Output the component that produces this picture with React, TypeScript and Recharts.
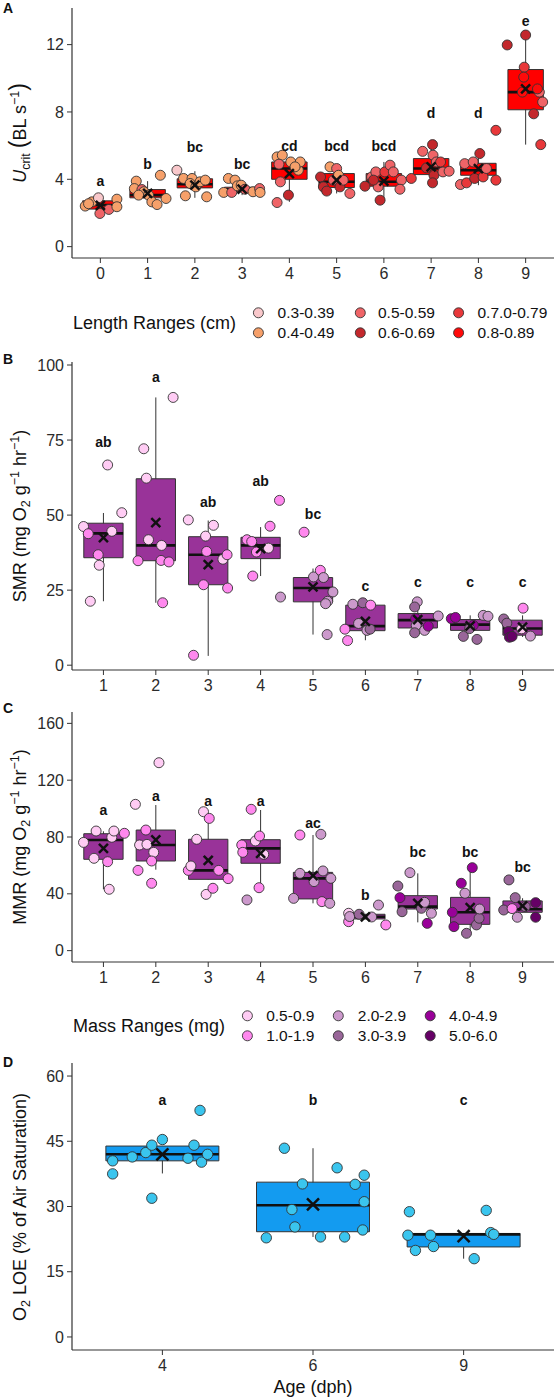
import React from 'react';
import { ComposedChart, XAxis, YAxis, Scatter, ReferenceArea, ReferenceLine } from 'recharts';

const FONT = '"Liberation Sans", Arial, Helvetica, sans-serif';
const INK = '#333333';

// ---------- Panel A: Ucrit by age ----------
const ucritAges = ['0', '1', '2', '3', '4', '5', '6', '7', '8', '9'];
// [lower whisker, q1, median, q3, upper whisker]
const ucritBoxes = [
  [1.97, 2.23, 2.47, 2.72, 2.9],
  [2.76, 2.9, 3.06, 3.39, 3.89],
  [2.9, 3.49, 3.71, 4.03, 4.48],
  [3.06, 3.26, 3.41, 3.53, 3.89],
  [2.66, 4.0, 4.64, 5.03, 5.33],
  [3.16, 3.51, 3.85, 4.34, 4.84],
  [2.76, 3.59, 3.85, 4.34, 5.03],
  [3.85, 4.28, 4.64, 5.23, 6.02],
  [3.65, 4.24, 4.54, 4.95, 5.43],
  [6.06, 8.13, 9.18, 10.52, 12.57],
];
const ucritMeans = [2.45, 3.16, 3.65, 3.41, 4.34, 3.95, 3.89, 4.74, 4.64, 9.37];
const ucritLetters = ['a', 'b', 'bc', 'bc', 'cd', 'bcd', 'bcd', 'd', 'd', 'e'];
const ucritLetterY = [3.89, 4.93, 5.92, 4.93, 5.96, 5.96, 5.96, 7.93, 7.93, 13.42];
const lengthRanges = ['0.3-0.39', '0.4-0.49', '0.5-0.59', '0.6-0.69', '0.7.0-0.79', '0.8-0.89'];
const lengthColors = ['#f9c8cb', '#f6a06a', '#ef6467', '#c3282c', '#e8383a', '#ff0a0a'];
// [group, jitter, value, length range]
const ucritPoints = [
  [0, -0.32, 2.41, 1], [0, -0.18, 2.66, 1], [0, -0.25, 2.55, 1], [0, -0.04, 2.9, 0], [0, -0.01, 1.97, 2],
  [0, 0.18, 2.21, 2], [0, 0.35, 2.82, 1], [0, 0.35, 2.37, 1],
  [1, -0.24, 3.89, 1], [1, -0.28, 3.45, 1], [1, -0.12, 3.39, 2], [1, -0.08, 3.26, 1], [1, 0.02, 3.06, 1],
  [1, 0.09, 2.66, 1], [1, 0.2, 2.5, 1], [1, 0.27, 4.24, 1], [1, 0.39, 2.86, 1], [1, -0.19, 3.06, 1],
  [2, -0.38, 4.54, 0], [2, -0.2, 3.02, 1], [2, -0.24, 4.05, 1], [2, -0.06, 4.05, 1], [2, -0.1, 3.75, 1],
  [2, 0.02, 3.55, 1], [2, 0.11, 3.85, 1], [2, 0.22, 3.95, 1], [2, 0.25, 2.96, 1],
  [3, -0.39, 3.22, 1], [3, -0.29, 4.05, 1], [3, -0.22, 3.22, 2], [3, -0.15, 3.95, 1], [3, -0.1, 3.61, 1],
  [3, -0.02, 3.65, 1], [3, 0.06, 3.41, 2], [3, 0.23, 3.26, 1], [3, 0.37, 3.45, 2], [3, 0.38, 3.22, 1],
  [4, -0.26, 5.33, 1], [4, -0.15, 5.43, 1], [4, -0.22, 4.9, 2], [4, -0.19, 3.85, 2], [4, -0.26, 2.62, 2],
  [4, -0.02, 3.06, 3], [4, 0.03, 5.03, 1], [4, 0.19, 4.54, 1], [4, 0.23, 5.03, 1], [4, 0.12, 4.74, 1],
  [5, -0.34, 4.14, 3], [5, -0.28, 3.55, 3], [5, -0.21, 3.3, 3], [5, -0.14, 4.74, 1], [5, 0, 4.64, 2],
  [5, -0.07, 3.95, 2], [5, 0.07, 3.55, 3], [5, 0.04, 4.24, 1], [5, 0.28, 3.16, 2], [5, 0.14, 3.95, 2],
  [6, -0.4, 3.59, 3], [6, -0.26, 4.14, 2], [6, -0.17, 4.44, 2], [6, -0.12, 3.55, 2], [6, -0.08, 2.76, 3],
  [6, 0.02, 4.44, 4], [6, 0.13, 4.84, 2], [6, 0.2, 4.44, 2], [6, 0.37, 3.95, 2], [6, 0.34, 3.41, 2],
  [6, -0.22, 3.95, 3],
  [7, -0.42, 4.05, 4], [7, -0.18, 5.66, 2], [7, 0.03, 6.06, 3], [7, 0.04, 5.43, 2], [7, 0.11, 5.03, 2],
  [7, -0.1, 4.68, 3], [7, 0.06, 4.24, 3], [7, 0.03, 3.79, 3], [7, 0.25, 4.44, 2], [7, 0.38, 4.48, 2],
  [7, 0.2, 5.03, 4],
  [8, -0.38, 3.69, 2], [8, -0.29, 4.93, 2], [8, -0.25, 3.79, 4], [8, -0.11, 5.03, 2], [8, -0.08, 4.05, 3],
  [8, 0.03, 5.53, 3], [8, 0.1, 4.14, 4], [8, 0.17, 4.64, 2], [8, 0.37, 6.91, 4], [8, 0.37, 3.95, 4],
  [9, -0.39, 11.98, 3], [9, 0, 12.57, 3], [9, -0.03, 10.66, 4], [9, -0.04, 10.07, 5], [9, -0.07, 9.18, 5],
  [9, 0.29, 9.18, 2], [9, 0.36, 8.59, 2], [9, 0.17, 7.89, 3], [9, 0.32, 6.06, 4], [9, 0.25, 9.37, 5],
];

// ---------- Panels B and C: SMR / MMR by age ----------
const rateAges = ['1', '2', '3', '4', '5', '6', '7', '8', '9'];
const massRanges = ['0.5-0.9', '1.0-1.9', '2.0-2.9', '3.0-3.9', '4.0-4.9', '5.0-6.0'];
const massColors = ['#ffccf4', '#ff88ee', '#cc99cc', '#996699', '#990099', '#660066'];

const smrBoxes = [
  [21.3, 35.8, 43.9, 47.3, 50.7],
  [20.8, 34.8, 39.9, 62.1, 89.2],
  [3.1, 26.8, 36.8, 42.8, 48.2],
  [29.7, 35.5, 39.9, 42.6, 46.0],
  [10.2, 21.1, 25.7, 29.2, 32.2],
  [8.3, 11.5, 13.0, 20.0, 22.2],
  [11.1, 12.4, 15.0, 17.2, 21.1],
  [10.5, 11.6, 13.5, 15.2, 16.6],
  [9.4, 10.0, 12.2, 15.0, 16.6],
];
const smrMeans = [42.5, 47.5, 33.5, 38.8, 26.1, 14.6, 15.2, 13.1, 12.7];
const smrLetters = ['ab', 'a', 'ab', 'ab', 'bc', 'c', 'c', 'c', 'c'];
const smrLetterY = [74.3, 96.1, 54.3, 61.5, 50.4, 26.3, 27.7, 27.7, 27.7];
// [group, jitter, value, mass range]
const smrPoints = [
  [0, -0.38, 46.2, 0], [0, -0.29, 43.8, 1], [0, -0.25, 21.3, 0], [0, -0.1, 36.8, 1], [0, -0.08, 33.3, 0],
  [0, 0.08, 66.7, 0], [0, 0.16, 44.6, 0], [0, 0.35, 50.8, 0],
  [1, -0.34, 34.8, 1], [1, -0.23, 72.1, 0], [1, -0.18, 62.3, 0], [1, -0.14, 41.8, 0], [1, 0.11, 39.9, 0],
  [1, 0.1, 34.9, 1], [1, 0.13, 20.8, 1], [1, 0.25, 34.4, 1], [1, 0.33, 89.2, 0],
  [2, -0.38, 48.4, 0], [2, -0.28, 3.3, 1], [2, -0.09, 26.8, 1], [2, -0.05, 43.0, 0], [2, -0.03, 37.9, 1],
  [2, 0.1, 46.6, 0], [2, 0.28, 35.3, 0], [2, 0.36, 36.8, 1], [2, 0.37, 25.7, 1],
  [3, -0.26, 41.8, 1], [3, -0.17, 41.2, 1], [3, -0.15, 29.7, 1], [3, -0.08, 37.7, 1], [3, 0.15, 39.0, 0],
  [3, 0.18, 46.3, 1], [3, 0.36, 54.9, 1], [3, 0.38, 22.7, 2],
  [4, -0.17, 44.3, 1], [4, 0.01, 29.4, 2], [4, 0.14, 31.6, 1], [4, 0.2, 29.2, 2], [4, 0.38, 24.4, 2],
  [4, 0.28, 21.3, 2], [4, 0.24, 20.5, 2], [4, 0.27, 10.2, 2],
  [5, -0.39, 12.0, 1], [5, -0.34, 8.2, 1], [5, -0.24, 20.3, 2], [5, -0.05, 20.8, 3], [5, 0.1, 20.0, 1],
  [5, -0.13, 13.9, 2], [5, 0.03, 11.6, 2], [5, 0.09, 12.0, 3],
  [6, -0.01, 21.1, 2], [6, -0.06, 19.4, 3], [6, -0.04, 15.5, 4], [6, -0.03, 13.3, 2], [6, -0.06, 10.8, 3],
  [6, 0.13, 11.6, 2], [6, 0.2, 13.0, 4], [6, 0.39, 16.4, 2],
  [7, -0.36, 15.5, 4], [7, -0.28, 15.9, 4], [7, -0.13, 9.6, 3], [7, 0.06, 13.3, 4], [7, 0.13, 8.6, 3],
  [7, 0.25, 16.6, 2], [7, 0.34, 16.3, 2], [7, -0.01, 12.2, 3],
  [8, -0.36, 15.4, 3], [8, -0.3, 14.0, 3], [8, -0.27, 11.2, 5], [8, -0.25, 9.3, 5], [8, -0.2, 9.6, 5],
  [8, 0.01, 19.0, 1], [8, -0.02, 12.1, 0], [8, 0.15, 9.7, 2],
];

const mmrBoxes = [
  [43.2, 64.3, 77.9, 82.3, 84.0],
  [57.0, 63.1, 74.4, 84.9, 102.5],
  [50.2, 50.2, 56.5, 78.4, 93.1],
  [44.3, 61.5, 72.0, 78.1, 99.0],
  [33.3, 36.4, 50.9, 55.1, 81.4],
  [22.3, 22.3, 23.9, 25.6, 25.6],
  [19.9, 29.3, 31.0, 38.7, 54.4],
  [12.2, 18.5, 27.0, 37.5, 58.4],
  [27.0, 27.0, 29.1, 35.0, 36.9],
];
const mmrMeans = [72.0, 77.9, 63.6, 68.5, 52.8, 23.7, 33.3, 30.3, 31.5];
const mmrLetters = ['a', 'a', 'a', 'a', 'ac', 'b', 'bc', 'bc', 'bc'];
const mmrLetterY = [99.0, 109.0, 105.6, 105.6, 89.6, 39.2, 69.2, 69.2, 58.7];
const mmrPoints = [
  [0, -0.38, 76.2, 0], [0, -0.18, 65.0, 0], [0, -0.14, 84.2, 0], [0, 0.08, 62.6, 1], [0, 0.11, 43.2, 0],
  [0, 0.16, 79.8, 0], [0, 0.2, 84.2, 0], [0, 0.4, 82.6, 1],
  [1, -0.39, 103.0, 0], [1, -0.34, 56.5, 1], [1, -0.31, 74.4, 0], [1, -0.19, 84.9, 1], [1, -0.17, 74.8, 0],
  [1, -0.04, 69.2, 0], [1, -0.08, 63.1, 1], [1, -0.08, 47.4, 1], [1, 0.06, 132.3, 0],
  [2, -0.38, 56.5, 1], [2, -0.33, 59.6, 0], [2, -0.22, 78.4, 0], [2, -0.09, 97.8, 0], [2, 0.02, 93.1, 1],
  [2, -0.04, 39.6, 0], [2, 0.09, 43.9, 1], [2, 0.2, 56.5, 1], [2, 0.38, 50.7, 1],
  [3, -0.36, 74.4, 1], [3, -0.34, 69.2, 1], [3, -0.26, 35.7, 2], [3, -0.18, 99.5, 1], [3, -0.1, 77.2, 0],
  [3, -0.02, 80.7, 1], [3, 0.06, 67.8, 0], [3, -0.03, 44.3, 1],
  [4, -0.25, 81.4, 1], [4, 0.15, 81.9, 2], [4, -0.37, 36.8, 2], [4, -0.25, 54.4, 2], [4, 0.02, 48.6, 2],
  [4, 0.19, 56.1, 2], [4, 0.34, 50.9, 2], [4, 0.17, 34.5, 1], [4, 0.32, 33.3, 2],
  [5, -0.32, 26.3, 0], [5, -0.32, 20.4, 1], [5, -0.3, 24.0, 2], [5, -0.12, 25.6, 3], [5, 0.12, 23.7, 2],
  [5, 0.25, 32.1, 2], [5, 0.39, 18.1, 1],
  [6, -0.38, 45.5, 3], [6, -0.34, 37.3, 4], [6, -0.3, 27.4, 3], [6, -0.15, 54.9, 2], [6, 0.07, 29.8, 3],
  [6, 0.13, 34.0, 2], [6, 0.26, 26.3, 2], [6, 0.18, 19.2, 4],
  [7, -0.34, 27.0, 4], [7, -0.31, 16.9, 4], [7, -0.17, 47.4, 4], [7, -0.1, 40.4, 2], [7, 0.04, 58.4, 4],
  [7, -0.07, 12.2, 3], [7, 0.12, 18.1, 3], [7, 0.17, 22.8, 3], [7, 0.18, 29.3, 2],
  [8, -0.36, 28.6, 3], [8, -0.26, 49.8, 3], [8, -0.14, 37.3, 3], [8, -0.1, 23.5, 2], [8, -0.2, 29.6, 1],
  [8, 0.25, 33.8, 5], [8, 0.25, 23.5, 5], [8, 0.05, 31.0, 3],
];

// ---------- Panel D: O2 LOE ----------
const loeAges = ['4', '6', '9'];
const loeBoxes = [
  [37.6, 40.5, 42.0, 43.9, 43.9],
  [23.0, 24.2, 30.3, 35.6, 43.4],
  [18.0, 20.7, 23.6, 23.8, 23.8],
];
const loeMeans = [42.0, 30.5, 23.2];
const loeLetters = ['a', 'b', 'c'];
const loeLetterY = [54.6, 54.6, 54.6];
// [group, jitter, value]
const loePoints = [
  [0, -0.33, 40.5], [0, -0.33, 37.5], [0, -0.2, 41.4], [0, -0.11, 42.4], [0, -0.07, 44.1], [0, -0.07, 31.9],
  [0, 0, 45.4], [0, 0.17, 41.1], [0, 0.21, 44.1], [0, 0.25, 52.1], [0, 0.26, 40.2], [0, 0.3, 42.0],
  [1, -0.31, 22.8], [1, -0.19, 43.4], [1, -0.14, 29.3], [1, -0.12, 25.3], [1, -0.07, 35.2], [1, 0.05, 23.0],
  [1, 0.16, 38.9], [1, 0.21, 23.0], [1, 0.28, 35.1], [1, 0.33, 24.6], [1, 0.34, 37.2], [1, 0.34, 31.1],
  [2, -0.37, 23.4], [2, -0.36, 28.8], [2, -0.32, 19.9], [2, -0.22, 23.4], [2, -0.2, 20.8], [2, 0.07, 18.0],
  [2, 0.15, 29.1], [2, 0.18, 24.0], [2, 0.2, 23.6],
];

interface PanelProps {
  top: number;
  height: number;
  marginTop: number;
  xAxisHeight: number;
  labels: string[];
  positions: number[];
  xDomain: [number, number];
  yDomain: [number, number];
  yTicks: number[];
  boxes: number[][];
  means: number[];
  letters: string[];
  letterY: number[];
  points: number[][];
  pointColor: (p: number[]) => string;
  boxFill: string;
  crossSize: number;
  pointR: number;
}

function BoxPanel(props: PanelProps) {
  const { labels, positions, boxes } = props;
  const half = 0.375;
  const pts = props.points.map((p) => ({ x: positions[p[0]] + p[1], y: p[2], fill: props.pointColor(p) }));
  const meanData = props.means.map((m, i) => ({ x: positions[i], y: m }));
  const letterData = props.letters.map((l, i) => ({ x: positions[i], y: props.letterY[i], label: l }));
  const tickStyle = { fill: '#2b2b2b', fontSize: 16, fontFamily: FONT };

  return (
    <div style={{ position: 'absolute', left: 0, top: props.top }}>
      <ComposedChart width={556} height={props.height} margin={{ top: props.marginTop, right: 2, bottom: 0, left: 0 }}>
        <XAxis
          type="number"
          dataKey="x"
          domain={props.xDomain}
          ticks={positions}
          interval={0}
          allowDataOverflow
          height={props.xAxisHeight}
          tickFormatter={(v: number) => labels[positions.indexOf(v)] ?? ''}
          tick={tickStyle}
          tickSize={5}
          tickMargin={5}
          axisLine={{ stroke: INK, strokeWidth: 1.2 }}
          tickLine={{ stroke: INK, strokeWidth: 1 }}
        />
        <YAxis
          type="number"
          dataKey="y"
          domain={props.yDomain}
          ticks={props.yTicks}
          interval={0}
          allowDataOverflow
          width={72}
          tick={tickStyle}
          tickSize={5}
          tickMargin={3}
          axisLine={{ stroke: INK, strokeWidth: 1.2 }}
          tickLine={{ stroke: INK, strokeWidth: 1 }}
        />
        {boxes.map((b, i) => (
          <ReferenceLine
            key={`wl${i}`}
            segment={[{ x: positions[i], y: b[0] }, { x: positions[i], y: b[4] }]}
            stroke={INK}
            strokeWidth={1}
            zIndex={40}
          />
        ))}
        {boxes.map((b, i) => (
          <ReferenceArea
            key={`bx${i}`}
            x1={positions[i] - half}
            x2={positions[i] + half}
            y1={b[1]}
            y2={b[3]}
            fill={props.boxFill}
            fillOpacity={1}
            stroke={INK}
            strokeWidth={1}
            zIndex={50}
          />
        ))}
        {boxes.map((b, i) => (
          <ReferenceLine
            key={`md${i}`}
            segment={[{ x: positions[i] - half, y: b[2] }, { x: positions[i] + half, y: b[2] }]}
            stroke="#111111"
            strokeWidth={2.6}
            zIndex={60}
          />
        ))}
        <Scatter
          data={pts}
          isAnimationActive={false}
          zIndex={600}
          shape={(p: any) => (
            <circle cx={p.cx} cy={p.cy} r={props.pointR} fill={p.payload.fill} stroke="#333" strokeWidth={0.9} />
          )}
        />
        <Scatter
          data={meanData}
          isAnimationActive={false}
          zIndex={700}
          shape={(p: any) => {
            const s = props.crossSize;
            return (
              <g>
                <line x1={p.cx - s} y1={p.cy - s} x2={p.cx + s} y2={p.cy + s} stroke="#111" strokeWidth={2.5} />
                <line x1={p.cx - s} y1={p.cy + s} x2={p.cx + s} y2={p.cy - s} stroke="#111" strokeWidth={2.5} />
              </g>
            );
          }}
        />
        <Scatter
          data={letterData}
          isAnimationActive={false}
          zIndex={800}
          shape={(p: any) => (
            <text
              x={p.cx}
              y={p.cy}
              textAnchor="middle"
              dominantBaseline="central"
              fontFamily={FONT}
              fontWeight="bold"
              fontSize={14}
              fill="#111"
            >
              {p.payload.label}
            </text>
          )}
        />
      </ComposedChart>
    </div>
  );
}

function Legend({ title, items, colors, titleY, rowY, colX, textX }: {
  title: string; items: string[]; colors: string[]; titleY: number; rowY: number[]; colX: number[]; textX: number[];
}) {
  return (
    <g>
      <text x={73} y={titleY} fontSize={18} dominantBaseline="central" fill="#111">{title}</text>
      {items.map((it, i) => {
        const col = Math.floor(i / 2);
        const row = i % 2;
        return (
          <g key={it}>
            <circle cx={colX[col]} cy={rowY[row]} r={5} fill={colors[i]} stroke="#333" strokeWidth={0.9} />
            <text x={textX[col]} y={rowY[row]} fontSize={15.5} dominantBaseline="central" fill="#111">{it}</text>
          </g>
        );
      })}
    </g>
  );
}

export default function App() {
  const sub = { fontSize: 12.5 };
  return (
    <div style={{ position: 'absolute', left: 0, top: 0, width: 556, height: 1400, background: '#fff', fontFamily: FONT }}>
      <BoxPanel
        top={0} height={290} marginTop={8} xAxisHeight={32}
        labels={ucritAges} positions={[0, 1, 2, 3, 4, 5, 6, 7, 8, 9]}
        xDomain={[-0.6, 9.6]} yDomain={[-0.675, 14.175]} yTicks={[0, 4, 8, 12]}
        boxes={ucritBoxes} means={ucritMeans} letters={ucritLetters} letterY={ucritLetterY}
        points={ucritPoints} pointColor={(p) => lengthColors[p[3]]}
        boxFill="#ff0000" crossSize={4.5} pointR={5}
      />
      <BoxPanel
        top={350} height={352} marginTop={12} xAxisHeight={32}
        labels={rateAges} positions={[1, 2, 3, 4, 5, 6, 7, 8, 9]}
        xDomain={[0.4, 9.6]} yDomain={[-1.6, 101]} yTicks={[0, 25, 50, 75, 100]}
        boxes={smrBoxes} means={smrMeans} letters={smrLetters} letterY={smrLetterY}
        points={smrPoints} pointColor={(p) => massColors[p[3]]}
        boxFill="#993399" crossSize={4.5} pointR={5}
      />
      <BoxPanel
        top={700} height={294} marginTop={12} xAxisHeight={32}
        labels={rateAges} positions={[1, 2, 3, 4, 5, 6, 7, 8, 9]}
        xDomain={[0.4, 9.6]} yDomain={[-8, 168]} yTicks={[0, 40, 80, 120, 160]}
        boxes={mmrBoxes} means={mmrMeans} letters={mmrLetters} letterY={mmrLetterY}
        points={mmrPoints} pointColor={(p) => massColors[p[3]]}
        boxFill="#993399" crossSize={4.5} pointR={5}
      />
      <BoxPanel
        top={1050} height={350} marginTop={13} xAxisHeight={50}
        labels={loeAges} positions={[1, 2, 3]}
        xDomain={[0.4, 3.6]} yDomain={[-3, 63]} yTicks={[0, 15, 30, 45, 60]}
        boxes={loeBoxes} means={loeMeans} letters={loeLetters} letterY={loeLetterY}
        points={loePoints} pointColor={() => '#3ac5ee'}
        boxFill="#139bf0" crossSize={6} pointR={5.2}
      />
      <svg width={556} height={1400} style={{ position: 'absolute', left: 0, top: 0, pointerEvents: 'none' }} fontFamily={FONT}>
        <g fontWeight="bold" fontSize={14} fill="#111">
          <text x={3} y={13}>A</text>
          <text x={3} y={364}>B</text>
          <text x={3} y={713}>C</text>
          <text x={3} y={1067}>D</text>
        </g>
        <g fontSize={18} fill="#111" textAnchor="middle">
          <text x={26} y={133} transform="rotate(-90 26 133)">
            <tspan fontStyle="italic">U</tspan>
            <tspan {...sub} dy={4}>crit</tspan>
            <tspan dy={-4}> </tspan>
            <tspan fontSize={23}>(</tspan>
            <tspan>BL s</tspan>
            <tspan {...sub} dy={-7}>−1</tspan>
            <tspan fontSize={23} dy={7}>)</tspan>
          </text>
          <text x={26} y={516} transform="rotate(-90 26 516)">
            <tspan>SMR (mg O</tspan>
            <tspan {...sub} dy={4}>2</tspan>
            <tspan dy={-4}> g</tspan>
            <tspan {...sub} dy={-7}>−1</tspan>
            <tspan dy={7}> hr</tspan>
            <tspan {...sub} dy={-7}>−1</tspan>
            <tspan dy={7}>)</tspan>
          </text>
          <text x={26} y={837} transform="rotate(-90 26 837)">
            <tspan>MMR (mg O</tspan>
            <tspan {...sub} dy={4}>2</tspan>
            <tspan dy={-4}> g</tspan>
            <tspan {...sub} dy={-7}>−1</tspan>
            <tspan dy={7}> hr</tspan>
            <tspan {...sub} dy={-7}>−1</tspan>
            <tspan dy={7}>)</tspan>
          </text>
          <text x={26} y={1207} transform="rotate(-90 26 1207)">
            <tspan>O</tspan>
            <tspan {...sub} dy={4}>2</tspan>
            <tspan dy={-4}> LOE (% of Air Saturation)</tspan>
          </text>
          <text x={313} y={1393}>Age (dph)</text>
        </g>
        <Legend
          title="Length Ranges (cm)" items={lengthRanges} colors={lengthColors}
          titleY={322.5} rowY={[312.8, 332.8]} colX={[258.4, 360.3, 458.6]} textX={[277.6, 378, 477.5]}
        />
        <Legend
          title="Mass Ranges (mg)" items={massRanges} colors={massColors}
          titleY={1026} rowY={[1015.8, 1035.8]} colX={[247.4, 338.3, 430.2]} textX={[266.2, 357.8, 449]}
        />
      </svg>
    </div>
  );
}
